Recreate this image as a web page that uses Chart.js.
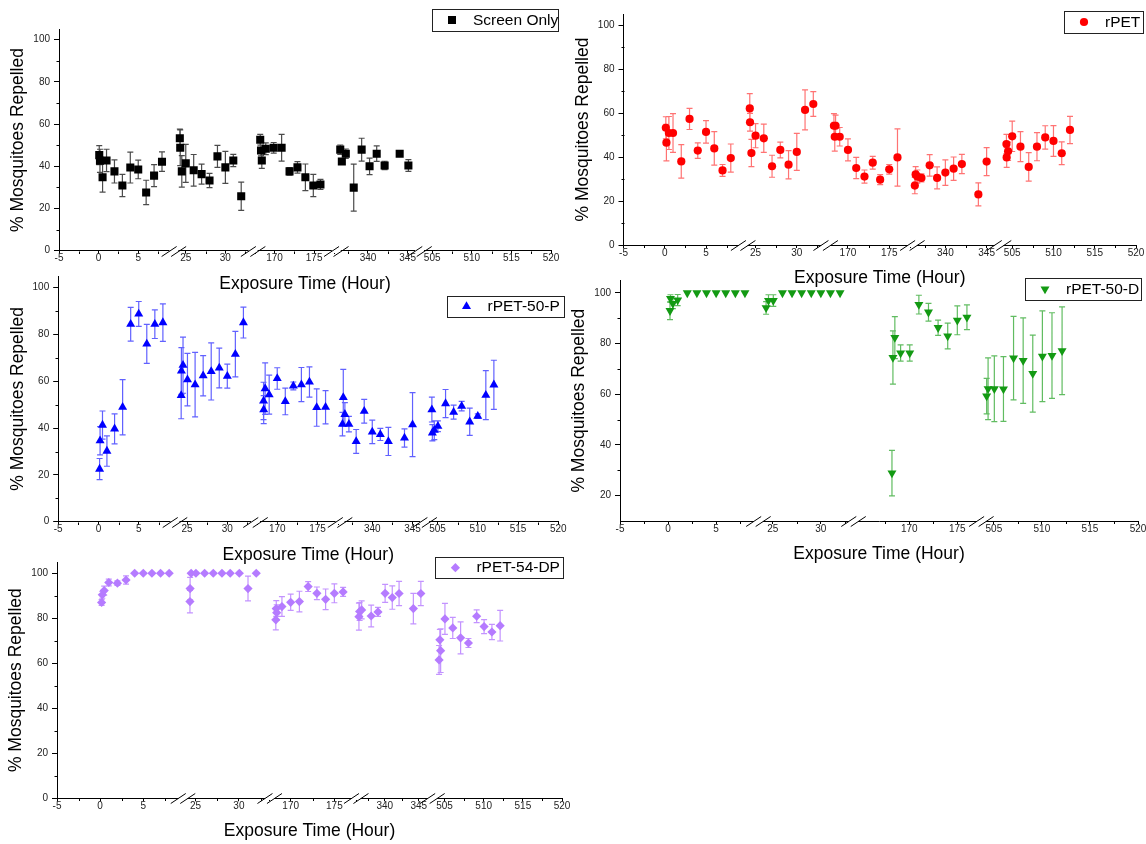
<!DOCTYPE html>
<html>
<head>
<meta charset="utf-8">
<script src="https://cdn.jsdelivr.net/npm/chart.js"></script>
<style>
  html, body { margin: 0; padding: 0; background: #fff; overflow: hidden; width: 1146px; height: 844px; position: relative; }
  canvas { position: absolute; }
</style>
</head>
<body>
<script>
// ---- data: exposure hour, % repelled, error (+/-) ----
const screenHours = [0.08, 0.17, 0.5, 1, 2, 3, 4, 5, 6, 7, 8,
  24.25, 24.3, 24.5, 25, 26, 27, 28, 29, 30, 31, 32,
  168.2, 168.3, 168.4, 168.9, 169.9, 170.9, 171.9, 172.9, 173.9, 174.9, 175.8,
  336.5, 336.7, 337.2, 338.2, 339.2, 340.2, 341.1, 342.1, 344, 345.1];
const screenValues = [45.3, 42.6, 34.8, 42.8, 37.6, 30.9, 39.4, 38.5, 27.6, 35.6, 42.2,
  53.3, 48.8, 37.6, 41.4, 38.1, 36.3, 33.3, 44.7, 39.5, 42.8, 25.8,
  52.6, 47.5, 42.8, 48.3, 48.8, 48.8, 37.6, 39.5, 34.8, 30.9, 31.4,
  47.9, 42.3, 46.0, 29.9, 47.9, 40.0, 46.0, 40.4, 46.0, 40.4];
const screenErrors = [4.5, 5.5, 7, 5.3, 5.5, 5.3, 7.3, 4.4, 5.8, 5.2, 4.6,
  4.4, 8.5, 7.5, 9, 7.5, 4.7, 3.4, 5.2, 7.6, 2.9, 6.7,
  2.5, 2.5, 3.8, 2.8, 2.5, 6.3, 1.8, 2.7, 6.3, 5.3, 2.4,
  2.2, 1, 2.2, 11.1, 5.4, 3.9, 3.7, 2.0, 0.8, 2.8];

const rpetHours = [0.13, 0.2, 0.5, 1, 2, 3, 4, 5, 6, 7, 8,
  24.3, 24.33, 24.5, 25, 26, 27, 28, 29, 30, 31, 32,
  168.3, 168.4, 168.5, 169, 170, 171, 172, 173, 173.9, 175, 176,
  336.3, 336.4, 336.6, 337.1, 338.1, 339, 340, 341, 342, 344, 345,
  504.3, 504.33, 504.5, 505, 506, 507, 508, 509, 510, 511, 512];
const rpetValues = [53.3, 46.5, 50.9, 50.9, 38.0, 57.3, 42.9, 51.4, 43.9, 33.9, 39.5,
  62.1, 55.8, 41.8, 49.7, 48.5, 35.8, 43.2, 36.5, 42.3, 61.4, 64.1,
  54.2, 49.2, 54.2, 49.2, 43.2, 35.0, 31.1, 37.4, 29.7, 34.4, 39.8,
  27.0, 32.1, 31.1, 30.5, 36.2, 30.5, 32.9, 34.7, 36.8, 23.0, 37.9,
  45.9, 39.8, 42.6, 49.4, 44.7, 35.5, 44.7, 48.9, 47.3, 41.7, 52.3];
const rpetErrors = [5, 8.3, 7.5, 8.8, 7.6, 4.8, 3.5, 5.1, 7.6, 2.7, 6.4,
  6.7, 4, 6.2, 5.5, 6.4, 5, 3.6, 6.4, 8.4, 9.1, 5.6,
  5.5, 6.5, 4.8, 4.2, 5, 4.8, 3, 2.9, 2.3, 2.2, 13,
  3.7, 3.5, 3, 1.8, 4.9, 5, 5.8, 5.3, 4.4, 5.2, 6.4,
  4.4, 4.5, 4.2, 6.9, 6.8, 6.5, 6.4, 5.3, 7, 5.2, 6.2];

const p50Hours = [0.14, 0.2, 0.5, 1.05, 2, 3, 4, 5, 6, 7, 8,
  24.27, 24.3, 24.5, 25.05, 26, 27, 28, 29, 30, 31, 32,
  168.3, 168.32, 168.5, 169, 170, 171, 172, 173, 174, 174.9, 176,
  336.3, 336.4, 336.6, 337.1, 338, 339, 340, 341, 342, 344, 345,
  504.3, 504.36, 504.6, 505.05, 506, 507, 508, 509, 510, 511, 512];
const p50Values = [22.5, 34.6, 41.3, 30.2, 39.7, 48.9, 84.4, 88.8, 76.0, 84.4, 85.1,
  54.0, 64.4, 66.9, 60.7, 58.6, 62.4, 64.2, 65.7, 62.2, 71.6, 85.1,
  51.6, 47.9, 56.9, 54.3, 61.2, 51.4, 58.0, 58.6, 59.7, 48.8, 48.9,
  41.7, 53.1, 45.9, 41.7, 34.3, 47.2, 38.4, 37.3, 34.3, 35.8, 41.5,
  47.9, 38.0, 39.1, 40.8, 50.5, 46.8, 49.4, 42.7, 45.1, 54.1, 58.5];
const p50Errors = [4.5, 6, 6, 6.5, 6.4, 11.8, 7.2, 5.3, 8.3, 6.1, 8,
  10, 10, 12, 11.2, 13.8, 8.6, 12.2, 8.5, 5.1, 9.7, 6.6,
  8, 6, 11, 8.3, 4.6, 5.7, 1.7, 7.3, 6.5, 8, 7.1,
  5, 12, 5, 3.3, 5.1, 5.1, 5, 2.6, 6, 3.9, 13.7,
  5.3, 3.5, 4, 2.3, 6, 3, 2, 5.8, 1, 10.5, 10.5];

const d50Hours = [0.2, 0.25, 0.5, 1, 2, 3, 4, 5, 6, 7, 8,
  24.3, 24.55, 25.05, 26, 27, 28, 29, 30, 31, 32,
  168.2, 168.3, 168.5, 169.1, 170.05, 171, 172, 173, 174, 175, 176,
  504.25, 504.4, 505.05, 506, 507.05, 508.05, 509.05, 510.05, 511.05, 512.1];
const d50Values = [93.0, 97.8, 95.8, 97.2, 100, 100, 100, 100, 100, 100, 100,
  94.1, 97.0, 97.0, 100, 100, 100, 100, 100, 100, 100,
  28.9, 74.5, 82.4, 76.3, 76.3, 95.4, 92.4, 86.3, 83.0, 89.2, 90.4,
  59.3, 62.2, 62.2, 62.1, 74.3, 73.3, 68.2, 75.0, 75.3, 77.2];
const d50Errors = [3.5, 1.5, 2, 2.2, 0, 0, 0, 0, 0, 0, 0,
  2.5, 2.3, 2.3, 0, 0, 0, 0, 0, 0, 0,
  9, 10.5, 8.3, 3.2, 3.2, 3.7, 3.5, 3, 5.1, 5.7, 4.9,
  7, 12.2, 13, 12.8, 16.5, 16.9, 15.2, 17.9, 16.9, 17.3];

const dp54Hours = [0.17, 0.25, 0.47, 1, 2, 3, 4, 5, 6, 7, 8,
  24.36, 24.38, 24.5, 25.05, 26.05, 27.05, 28.05, 29, 30.05, 31.05, 32,
  168.3, 168.35, 168.4, 169, 170, 171, 172, 173, 174, 175, 176,
  336.2, 336.3, 336.6, 338, 339, 340.05, 341.1, 342.1, 344.2, 345.3,
  504.3, 504.4, 504.5, 505.05, 506.05, 507.05, 508.05, 509.1, 510.05, 511.05, 512.1];
const dp54Values = [87.0, 90.4, 92.3, 95.9, 95.6, 97.0, 100, 100, 100, 100, 100,
  87.4, 93.2, 100, 100, 100, 100, 100, 100, 100, 93.2, 100,
  79.3, 84.3, 82.5, 85.2, 87.1, 87.4, 94.1, 91.1, 88.4, 91.1, 91.7,
  80.7, 83.0, 83.7, 81.0, 82.8, 91.1, 89.2, 91.0, 84.3, 91.0,
  61.5, 70.4, 65.6, 79.7, 75.7, 71.3, 69.0, 80.9, 76.3, 73.9, 76.7];
const dp54Errors = [1.3, 1.5, 2, 1.5, 1, 1.8, 0, 0, 0, 0, 0,
  5, 5, 0, 0, 0, 0, 0, 0, 0, 5.5, 0,
  4.5, 3.5, 3.5, 4.4, 3.6, 4.6, 2.2, 2.8, 4.6, 4.2, 2,
  6, 4, 4, 4.8, 2, 4, 5.2, 5.4, 6.8, 5.4,
  6.4, 4.6, 9.7, 6.9, 4.7, 7.1, 2, 2.8, 3.1, 3.4, 6.8];

// ---- tick labels ----
const xTickHours = [-5, 0, 5, 25, 30, 170, 175, 340, 345, 505, 510, 515, 520];
const xTickHoursNo340 = [-5, 0, 5, 25, 30, 170, 175, 505, 510, 515, 520];
const xMinorHours = [-2.5, 2.5, 7.5, 27.5, 32.5, 167.5, 172.5, 177.5, 337.5, 342.5, 507.5, 512.5, 517.5];
const xMinorHoursNo340 = [-2.5, 2.5, 7.5, 27.5, 32.5, 167.5, 172.5, 507.5, 512.5, 517.5];
const yTicks = [0, 20, 40, 60, 80, 100];
const yTicksFrom20 = [20, 40, 60, 80, 100];
const yMinor = [10, 30, 50, 70, 90];
const yMinorFrom20 = [30, 50, 70, 90];

// ---- broken x axis: hour ranges and the share of the axis each one takes ----
const segsFive = [
  { lo: -5, hi: 9.5, a: 0, b: 0.2335 },
  { lo: 23.5, hi: 33.5, a: 0.2335, b: 0.3945 },
  { lo: 167.3, hi: 177.8, a: 0.3945, b: 0.5636 },
  { lo: 336, hi: 346.5, a: 0.5636, b: 0.7327 },
  { lo: 503.4, hi: 520, a: 0.7327, b: 1 }
];
const segsFour = [
  { lo: -5, hi: 9.4, a: 0, b: 0.2672 },
  { lo: 23.5, hi: 33.4, a: 0.2672, b: 0.4508 },
  { lo: 164.2, hi: 177.5, a: 0.4508, b: 0.6976 },
  { lo: 503.7, hi: 520, a: 0.6976, b: 1 }
];
const segsDP = [
  { lo: -5, hi: 9.6, a: 0, b: 0.2495 },
  { lo: 23.56, hi: 33.55, a: 0.2495, b: 0.4212 },
  { lo: 167.6, hi: 177.5, a: 0.4212, b: 0.5925 },
  { lo: 335.8, hi: 347, a: 0.5925, b: 0.7434 },
  { lo: 503.45, hi: 520, a: 0.7434, b: 1 }
];

Chart.defaults.font.family = "'Liberation Sans', Arial, Helvetica, sans-serif";
Chart.defaults.color = '#222';
Chart.defaults.animation = false;

function xMapper(segs) {
  return function (h) {
    let best = segs[0], dist = Infinity;
    for (const s of segs) {
      const d = h < s.lo ? s.lo - h : h > s.hi ? h - s.hi : 0;
      if (d < dist) { dist = d; best = s; }
    }
    return best.a + (h - best.lo) / (best.hi - best.lo) * (best.b - best.a);
  };
}

function drawMarker(ctx, style, x, y, r, rot) {
  ctx.beginPath();
  if (style === 'rect') {
    const s = r * Math.SQRT1_2;
    ctx.rect(x - s, y - s, 2 * s, 2 * s);
  } else if (style === 'circle') {
    ctx.arc(x, y, r, 0, Math.PI * 2);
  } else if (style === 'triangle') {
    let a = (rot || 0) * Math.PI / 180;
    ctx.moveTo(x + Math.sin(a) * r, y - Math.cos(a) * r);
    a += Math.PI * 2 / 3;
    ctx.lineTo(x + Math.sin(a) * r, y - Math.cos(a) * r);
    a += Math.PI * 2 / 3;
    ctx.lineTo(x + Math.sin(a) * r, y - Math.cos(a) * r);
    ctx.closePath();
  } else if (style === 'rectRot') {
    ctx.moveTo(x, y - r); ctx.lineTo(x + r, y); ctx.lineTo(x, y + r); ctx.lineTo(x - r, y);
    ctx.closePath();
  }
  ctx.fill();
}

const TITLE_SIZE = 17.5;
const Y_TITLE_SPACE = 40.5 + TITLE_SIZE * 0.6;
const X_AXIS_SPACE = 33 + TITLE_SIZE * 0.6;

function buildPanel(p) {
  const canvas = document.createElement('canvas');
  canvas.width = p.box[2];
  canvas.height = p.box[3];
  canvas.style.left = p.box[0] + 'px';
  canvas.style.top = p.box[1] + 'px';
  document.body.appendChild(canvas);

  const toX = xMapper(p.segs);
  const points = p.hours.map((h, i) => ({ x: toX(h), y: p.values[i], e: p.errors[i] }));

  const errorBars = {
    id: 'errorBars',
    beforeDatasetsDraw(chart) {
      const { ctx, scales: { x, y } } = chart;
      ctx.save();
      ctx.strokeStyle = p.errColor;
      ctx.lineWidth = 1.2;
      ctx.beginPath();
      points.forEach(pt => {
        if (!pt.e) return;
        const px = x.getPixelForValue(pt.x);
        const top = y.getPixelForValue(pt.y + pt.e);
        const bot = y.getPixelForValue(pt.y - pt.e);
        ctx.moveTo(px, top); ctx.lineTo(px, bot);
        ctx.moveTo(px - 3, top); ctx.lineTo(px + 3, top);
        ctx.moveTo(px - 3, bot); ctx.lineTo(px + 3, bot);
      });
      ctx.stroke();
      ctx.restore();
    }
  };

  const axisExtras = {
    id: 'axisExtras',
    afterDraw(chart) {
      const { ctx, scales: { x, y } } = chart;
      const y0 = Math.round(x.top) + 0.5;
      const x0 = Math.round(y.right) + 0.5;
      ctx.save();
      ctx.strokeStyle = '#000';
      ctx.lineWidth = 1;
      ctx.beginPath();
      p.minorX.forEach(h => {
        const px = Math.round(x.getPixelForValue(toX(h))) + 0.5;
        ctx.moveTo(px, y0); ctx.lineTo(px, y0 + 2.5);
      });
      p.minorY.forEach(v => {
        const py = Math.round(y.getPixelForValue(v)) + 0.5;
        ctx.moveTo(x0, py); ctx.lineTo(x0 - 3, py);
      });
      ctx.stroke();
      // axis breaks
      p.segs.slice(1).forEach(s => {
        const bx = x.getPixelForValue(s.a);
        ctx.fillStyle = '#fff';
        ctx.fillRect(bx - 4.5, y0 - 1.5, 9, 3);
        ctx.beginPath();
        [-4.75, 4.75].forEach(o => {
          ctx.moveTo(bx + o - 7.5, y0 + 5);
          ctx.lineTo(bx + o + 7.5, y0 - 5);
        });
        ctx.stroke();
      });
      // legend
      const [l, t, r, b] = p.legend;
      const ox = p.box[0], oy = p.box[1];
      ctx.strokeStyle = '#222';
      ctx.strokeRect(Math.round(l - ox) + 0.5, Math.round(t - oy) + 0.5, Math.round(r - l), Math.round(b - t));
      ctx.fillStyle = p.color;
      const cy = (t + b) / 2 - oy;
      drawMarker(ctx, p.marker, l - ox + 20, cy, p.radius, p.rotation);
      ctx.fillStyle = '#000';
      ctx.font = "15.5px 'Liberation Sans', Arial, sans-serif";
      ctx.textBaseline = 'middle';
      ctx.textAlign = 'left';
      ctx.fillText(p.label, l - ox + 41, cy + 0.5);
      ctx.restore();
    }
  };

  const pad = {
    left: p.plot[0] - Y_TITLE_SPACE - p.box[0],
    top: p.plot[1] - p.box[1],
    right: p.box[0] + p.box[2] - p.plot[2],
    bottom: p.box[1] + p.box[3] - p.plot[3] - X_AXIS_SPACE
  };

  new Chart(canvas, {
    type: 'scatter',
    data: {
      datasets: [{
        label: p.label,
        data: points,
        pointStyle: p.marker,
        pointRadius: p.radius,
        pointHoverRadius: p.radius,
        pointRotation: p.rotation || 0,
        pointBackgroundColor: p.color,
        pointBorderColor: p.color,
        pointBorderWidth: 0,
        showLine: false
      }]
    },
    options: {
      responsive: false,
      devicePixelRatio: 1,
      events: [],
      layout: { padding: pad },
      plugins: { legend: { display: false }, tooltip: { enabled: false } },
      scales: {
        x: {
          type: 'linear',
          min: 0,
          max: 1,
          afterBuildTicks: s => { s.ticks = p.xTicks.map(h => ({ value: toX(h) })); },
          afterFit: s => { s.height = X_AXIS_SPACE; },
          ticks: {
            autoSkip: false, maxRotation: 0, padding: -1,
            font: { size: 10 }, color: '#222',
            callback: (v, i) => String(p.xTicks[i])
          },
          grid: { drawOnChartArea: false, drawTicks: true, tickLength: 3, color: '#000' },
          border: { display: true, color: '#000', width: 1 },
          title: { display: true, text: 'Exposure Time (Hour)', font: { size: TITLE_SIZE }, color: '#000', padding: 0 }
        },
        y: {
          min: p.yMin,
          max: 105,
          afterBuildTicks: s => { s.ticks = p.yTicks.map(v => ({ value: v })); },
          afterFit: s => { s.width = Y_TITLE_SPACE; },
          ticks: { font: { size: 10 }, color: '#222', padding: 4 },
          grid: { drawOnChartArea: false, drawTicks: true, tickLength: 5, color: '#000' },
          border: { display: true, color: '#000', width: 1 },
          title: { display: true, text: '% Mosquitoes Repelled', font: { size: TITLE_SIZE }, color: '#000', padding: 0 }
        }
      }
    },
    plugins: [errorBars, axisExtras]
  });
}

const panels = [
  { label: 'Screen Only', hours: screenHours, values: screenValues, errors: screenErrors,
    box: [0, 0, 575, 300], plot: [59, 29.2, 551, 250.7], legend: [432, 9, 558, 31],
    segs: segsFive, xTicks: xTickHours, minorX: xMinorHours, yMin: 0, yTicks: yTicks, minorY: yMinor,
    marker: 'rect', radius: 5.7, color: '#000000', errColor: 'rgba(30,30,30,0.8)' },
  { label: 'rPET', hours: rpetHours, values: rpetValues, errors: rpetErrors,
    box: [570, 0, 590, 300], plot: [623.5, 14, 1136, 245], legend: [1064, 11, 1143, 33],
    segs: segsFive, xTicks: xTickHours, minorX: xMinorHours, yMin: 0, yTicks: yTicks, minorY: yMinor,
    marker: 'circle', radius: 4.1, color: '#ff0000', errColor: 'rgba(255,40,40,0.65)' },
  { label: 'rPET-50-P', hours: p50Hours, values: p50Values, errors: p50Errors,
    box: [0, 260, 590, 320], plot: [58.2, 276, 558.3, 521.7], legend: [446.5, 296, 563, 317],
    segs: segsFive, xTicks: xTickHours, minorX: xMinorHours, yMin: 0, yTicks: yTicks, minorY: yMinor,
    marker: 'triangle', radius: 5.2, color: '#0000ff', errColor: 'rgba(30,30,255,0.7)' },
  { label: 'rPET-50-D', hours: d50Hours, values: d50Values, errors: d50Errors,
    box: [570, 260, 590, 320], plot: [620, 280.3, 1138, 521], legend: [1025, 278, 1140.5, 300],
    segs: segsFour, xTicks: xTickHoursNo340, minorX: xMinorHoursNo340, yMin: 10, yTicks: yTicksFrom20, minorY: yMinorFrom20,
    marker: 'triangle', rotation: 180, radius: 5.2, color: '#139a13', errColor: 'rgba(30,160,30,0.7)' },
  { label: 'rPET-54-DP', hours: dp54Hours, values: dp54Values, errors: dp54Errors,
    box: [0, 545, 590, 299], plot: [57, 562, 562, 798.3], legend: [435.4, 557, 563, 578.3],
    segs: segsDP, xTicks: xTickHours, minorX: xMinorHours, yMin: 0, yTicks: yTicks, minorY: yMinor,
    marker: 'rectRot', radius: 4.6, color: '#b57bff', errColor: 'rgba(180,120,255,0.8)' }
];

panels.forEach(buildPanel);
</script>
</body>
</html>
